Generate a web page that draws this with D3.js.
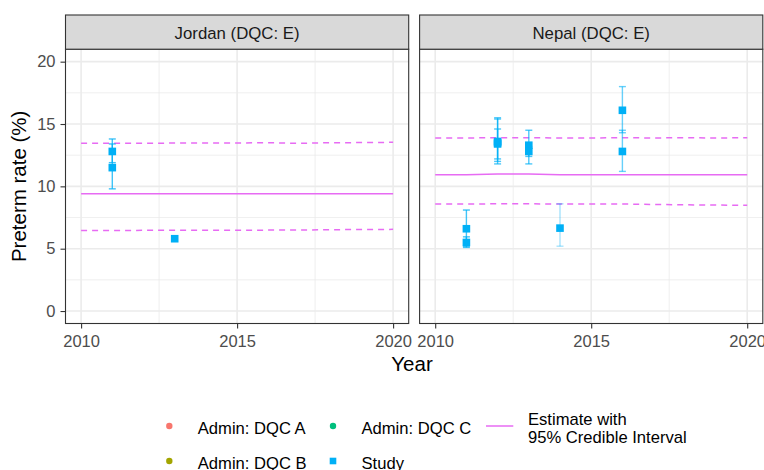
<!DOCTYPE html>
<html>
<head>
<meta charset="utf-8">
<script src="https://cdn.jsdelivr.net/npm/d3@7/dist/d3.min.js"></script>
<style>
  body { margin: 0; background: #fff; }
  text { font-family: "Liberation Sans", Arial, sans-serif; }
</style>
</head>
<body>
<svg id="chart" width="764" height="470"></svg>
<script>
// ---- data ----
const estimateYears = [2010, 2011, 2012, 2013, 2014, 2015, 2016, 2017, 2018, 2019, 2020];

const jordanEstimate = [9.4, 9.4, 9.4, 9.4, 9.4, 9.4, 9.4, 9.4, 9.4, 9.4, 9.4];
const jordanUpper    = [13.45, 13.45, 13.46, 13.47, 13.48, 13.48, 13.5, 13.45, 13.5, 13.51, 13.53];
const jordanLower    = [6.45, 6.46, 6.47, 6.48, 6.48, 6.48, 6.49, 6.5, 6.52, 6.54, 6.55];

const nepalEstimate  = [10.93, 10.93, 11.0, 11.0, 10.93, 10.93, 10.93, 10.93, 10.93, 10.93, 10.93];
const nepalUpper     = [13.88, 13.88, 13.9, 13.9, 13.88, 13.88, 13.9, 13.88, 13.9, 13.88, 13.9];
const nepalLower     = [8.58, 8.58, 8.6, 8.6, 8.58, 8.58, 8.58, 8.55, 8.52, 8.5, 8.48];

const jordanStudyYear  = [2011, 2011, 2013];
const jordanStudyValue = [12.8, 11.5, 5.8];
const jordanStudyLow   = [11.9, 9.8, null];
const jordanStudyHigh  = [13.8, 13.4, null];
const jordanStudyAlpha = [0.75, 0.75, 0.75];

const nepalStudyYear  = [2011, 2011, 2012, 2012, 2012, 2013, 2013, 2014, 2016, 2016];
const nepalStudyValue = [6.6, 5.5, 13.6, 13.5, 13.4, 13.3, 12.8, 6.65, 16.1, 12.8];
const nepalStudyLow   = [5.2, 5.1, 11.8, 12.2, 12.0, 11.8, 12.4, 5.2, 14.3, 11.2];
const nepalStudyHigh  = [8.1, 5.95, 15.5, 14.6, 15.4, 14.5, 13.2, 8.6, 18.0, 14.5];
const nepalStudyAlpha = [0.75, 0.75, 0.7, 0.7, 0.7, 0.7, 0.7, 0.35, 0.6, 0.6];

const panelTitles = ["Jordan (DQC: E)", "Nepal (DQC: E)"];
const xTicks = [2010, 2015, 2020];
const xMinor = [2012.5, 2017.5];
const yTicks = [0, 5, 10, 15, 20];
const yMinor = [2.5, 7.5, 12.5, 17.5];

const legendLabels = ["Admin: DQC A", "Admin: DQC B", "Admin: DQC C", "Study"];
const legendColors = ["#F8766D", "#A3A500", "#00BF7D", "#00B0F6"];
const estimateColor = "#E76BF3";
const studyColor = "#00B0F6";

// ---- layout ----
const svg = d3.select("#chart");
const panelTop = 49.2, panelBottom = 323.5, stripTop = 15;
const panelWidth = 343.2;
const panelLefts = [65.5, 419.6];

const y = d3.scaleLinear().domain([-1, 21]).range([panelBottom, panelTop]);

const panelData = [
  { est: jordanEstimate, up: jordanUpper, lo: jordanLower,
    sy: jordanStudyYear, sv: jordanStudyValue, sl: jordanStudyLow, sh: jordanStudyHigh, sa: jordanStudyAlpha },
  { est: nepalEstimate, up: nepalUpper, lo: nepalLower,
    sy: nepalStudyYear, sv: nepalStudyValue, sl: nepalStudyLow, sh: nepalStudyHigh, sa: nepalStudyAlpha }
];

panelData.forEach((p, i) => {
  const x0 = panelLefts[i];
  const x = d3.scaleLinear().domain([2009.5, 2020.5]).range([x0, x0 + panelWidth]);
  const g = svg.append("g");

  // gridlines
  g.selectAll(".ymin").data(yMinor).join("line")
    .attr("x1", x0).attr("x2", x0 + panelWidth)
    .attr("y1", d => y(d)).attr("y2", d => y(d))
    .attr("stroke", "#EBEBEB").attr("stroke-width", 0.8);
  g.selectAll(".xmin").data(xMinor).join("line")
    .attr("y1", panelTop).attr("y2", panelBottom)
    .attr("x1", d => x(d)).attr("x2", d => x(d))
    .attr("stroke", "#EBEBEB").attr("stroke-width", 0.8);
  g.selectAll(".ymaj").data(yTicks).join("line")
    .attr("x1", x0).attr("x2", x0 + panelWidth)
    .attr("y1", d => y(d)).attr("y2", d => y(d))
    .attr("stroke", "#EBEBEB").attr("stroke-width", 1.6);
  g.selectAll(".xmaj").data(xTicks).join("line")
    .attr("y1", panelTop).attr("y2", panelBottom)
    .attr("x1", d => x(d)).attr("x2", d => x(d))
    .attr("stroke", "#EBEBEB").attr("stroke-width", 1.6);

  // estimate with credible interval
  const line = d3.line().x((d, k) => x(estimateYears[k])).y(d => y(d));
  g.append("path").attr("d", line(p.up)).attr("fill", "none")
    .attr("stroke", estimateColor).attr("stroke-width", 1.5).attr("stroke-dasharray", "6,5");
  g.append("path").attr("d", line(p.lo)).attr("fill", "none")
    .attr("stroke", estimateColor).attr("stroke-width", 1.5).attr("stroke-dasharray", "6,5");
  g.append("path").attr("d", line(p.est)).attr("fill", "none")
    .attr("stroke", estimateColor).attr("stroke-width", 1.5);

  // study error bars
  const idx = d3.range(p.sy.length).filter(k => p.sl[k] != null);
  const bars = g.selectAll(".bar").data(idx).join("g")
    .attr("stroke", studyColor).attr("stroke-width", 1.4)
    .attr("stroke-opacity", k => p.sa[k]);
  bars.append("line")
    .attr("x1", k => x(p.sy[k])).attr("x2", k => x(p.sy[k]))
    .attr("y1", k => y(p.sl[k])).attr("y2", k => y(p.sh[k]));
  bars.append("line")
    .attr("x1", k => x(p.sy[k]) - 3.5).attr("x2", k => x(p.sy[k]) + 3.5)
    .attr("y1", k => y(p.sl[k])).attr("y2", k => y(p.sl[k]));
  bars.append("line")
    .attr("x1", k => x(p.sy[k]) - 3.5).attr("x2", k => x(p.sy[k]) + 3.5)
    .attr("y1", k => y(p.sh[k])).attr("y2", k => y(p.sh[k]));

  // study points
  g.selectAll(".pt").data(d3.range(p.sy.length)).join("rect")
    .attr("x", k => x(p.sy[k]) - 3.8).attr("y", k => y(p.sv[k]) - 3.8)
    .attr("width", 7.6).attr("height", 7.6)
    .attr("fill", studyColor);

  // panel border
  g.append("rect").attr("x", x0).attr("y", panelTop)
    .attr("width", panelWidth).attr("height", panelBottom - panelTop)
    .attr("fill", "none").attr("stroke", "#333333").attr("stroke-width", 1.1);

  // strip
  g.append("rect").attr("x", x0).attr("y", stripTop)
    .attr("width", panelWidth).attr("height", panelTop - stripTop)
    .attr("fill", "#D9D9D9").attr("stroke", "#333333").attr("stroke-width", 1.1);
  g.append("text").attr("x", x0 + panelWidth / 2).attr("y", 38.5)
    .attr("text-anchor", "middle").attr("font-size", 16.8).attr("fill", "#1A1A1A")
    .text(panelTitles[i]);

  // x axis
  const xAxis = d3.axisBottom(x).tickValues(xTicks).tickFormat(d3.format("d"))
    .tickSize(5).tickPadding(5);
  const xa = g.append("g").attr("transform", `translate(0,${panelBottom})`).call(xAxis);
  xa.select(".domain").remove();
  xa.selectAll(".tick line").attr("stroke", "#333333").attr("stroke-width", 1.1);
  xa.selectAll(".tick text").attr("font-size", 16.5).attr("fill", "#4D4D4D")
    .attr("font-family", "Liberation Sans, Arial, sans-serif")
    .attr("dy", null).attr("y", 23.5);

  // y axis on first panel only
  if (i === 0) {
    const yAxis = d3.axisLeft(y).tickValues(yTicks).tickSize(5).tickPadding(5);
    const ya = g.append("g").attr("transform", `translate(${x0},0)`).call(yAxis);
    ya.select(".domain").remove();
    ya.selectAll(".tick line").attr("stroke", "#333333").attr("stroke-width", 1.1);
    ya.selectAll(".tick text").attr("font-size", 16.5).attr("fill", "#4D4D4D")
      .attr("font-family", "Liberation Sans, Arial, sans-serif");
  }
});

// axis titles
svg.append("text").attr("x", 412).attr("y", 371)
  .attr("text-anchor", "middle").attr("font-size", 20.5).attr("fill", "#000")
  .text("Year");
svg.append("text").attr("transform", `translate(26,${(panelTop + panelBottom) / 2}) rotate(-90)`)
  .attr("text-anchor", "middle").attr("font-size", 20.5).attr("fill", "#000")
  .text("Preterm rate (%)");

// legend
const legend = svg.append("g");
const legX = [169.3, 169.3, 333, 333];
const legY = [426, 461, 426, 461];
legendLabels.forEach((lab, k) => {
  if (lab === "Study") {
    legend.append("rect").attr("x", legX[k] - 3.3).attr("y", legY[k] - 3.3)
      .attr("width", 6.6).attr("height", 6.6).attr("fill", legendColors[k]);
  } else {
    legend.append("circle").attr("cx", legX[k]).attr("cy", legY[k]).attr("r", 3.2)
      .attr("fill", legendColors[k]);
  }
  legend.append("text").attr("x", legX[k] + 28.5).attr("y", legY[k] + 7.5)
    .attr("font-size", 16.6).attr("fill", "#000").text(lab);
});
legend.append("line").attr("x1", 486).attr("x2", 513.3).attr("y1", 426).attr("y2", 426)
  .attr("stroke", estimateColor).attr("stroke-width", 1.5);
legend.append("text").attr("x", 528).attr("y", 425).attr("font-size", 16.6).text("Estimate with");
legend.append("text").attr("x", 528).attr("y", 443.3).attr("font-size", 16.6).text("95% Credible Interval");
</script>
</body>
</html>
